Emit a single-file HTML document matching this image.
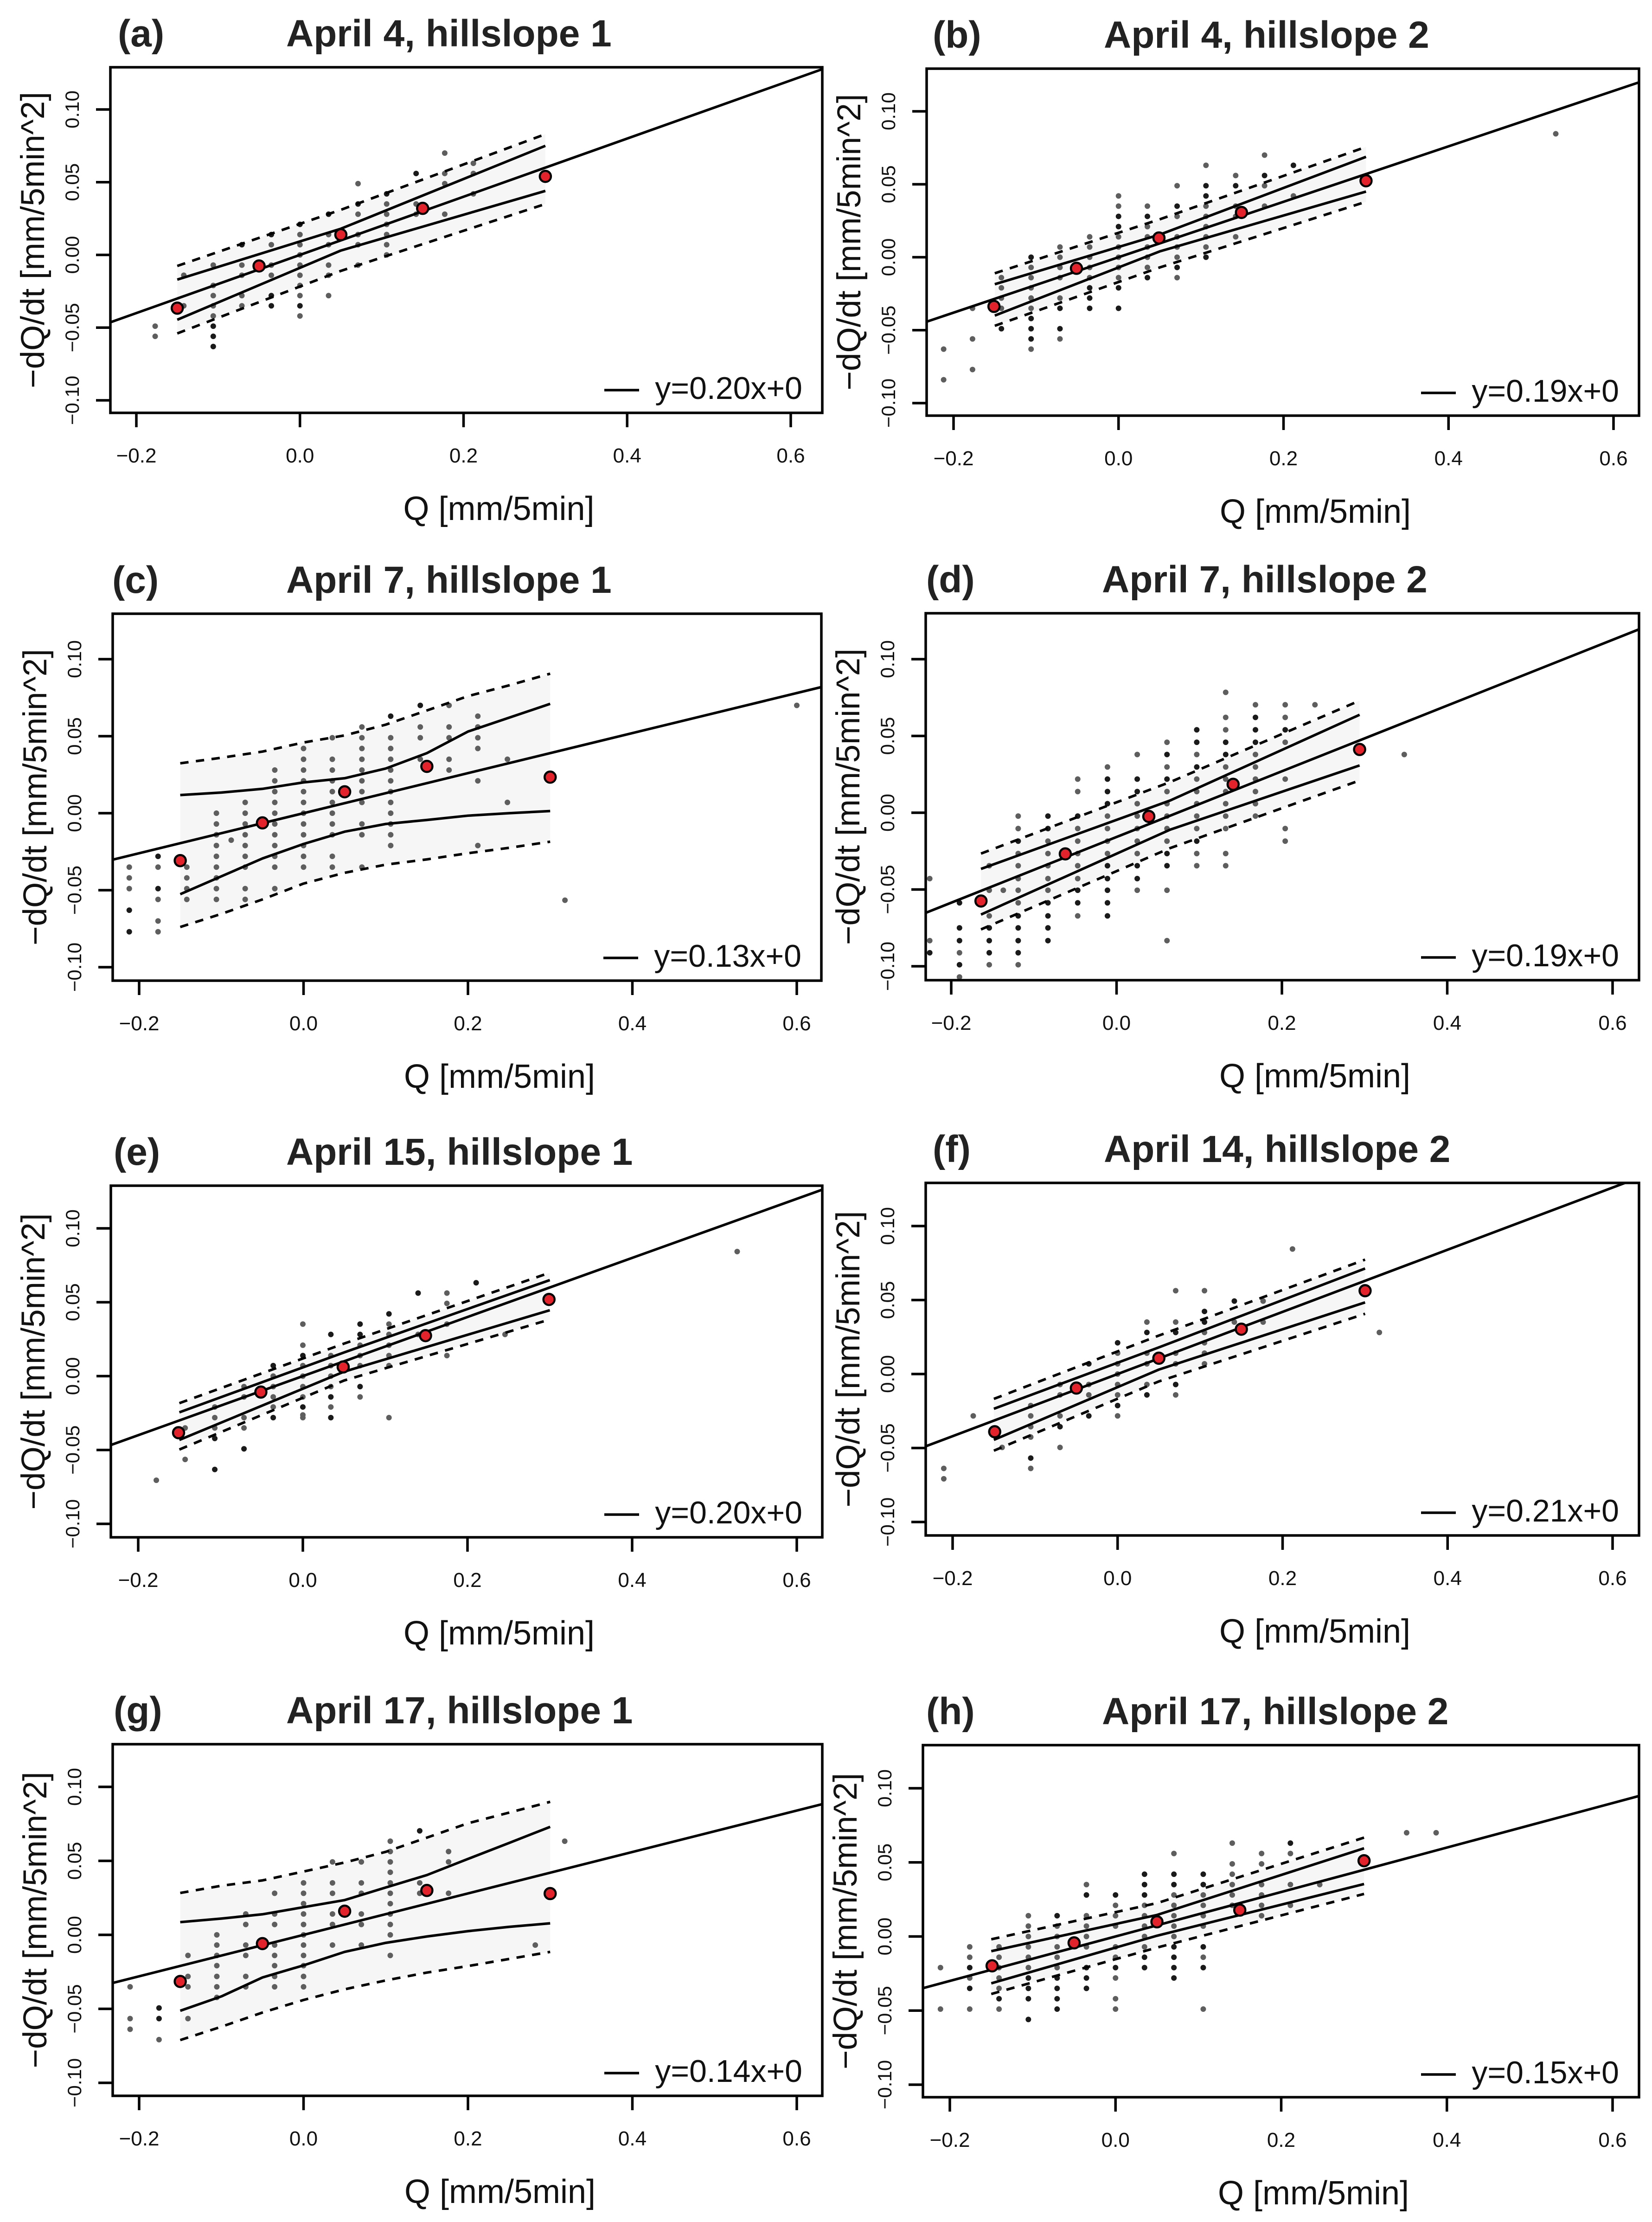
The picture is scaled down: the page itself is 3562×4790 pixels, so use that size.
<!DOCTYPE html>
<html><head><meta charset="utf-8"><style>
html,body{margin:0;padding:0;background:#fff;}
svg{display:block;font-family:"Liberation Sans",Arial,sans-serif;}
</style></head>
<body>
<svg id="fig" xmlns="http://www.w3.org/2000/svg" width="3562" height="4790" viewBox="0 0 3562 4790"></svg>
<script>
// ---------- chart data (data units) ----------
const panelLetters = ["(a)","(b)","(c)","(d)","(e)","(f)","(g)","(h)"];
const panelTitles = ["April 4, hillslope 1","April 4, hillslope 2","April 7, hillslope 1","April 7, hillslope 2","April 15, hillslope 1","April 14, hillslope 2","April 17, hillslope 1","April 17, hillslope 2"];
const slopes = [0.20,0.19,0.13,0.19,0.20,0.21,0.14,0.15];
const fitSlopes = [0.20,0.19,0.13,0.214,0.20,0.21,0.14,0.15];
const intercepts = [0,0,0,-0.0158,0,0,0,0];
const xTicks = [-0.2,0,0.2,0.4,0.6];
const xTickLabels = ["\u22120.2","0.0","0.2","0.4","0.6"];
const yTicks = [-0.1,-0.05,0,0.05,0.1];
const yTickLabels = ["\u22120.10","\u22120.05","0.00","0.05","0.10"];

// panel a
const aRedX=[-0.15,-0.05,0.05,0.15,0.30], aRedY=[-0.0366,-0.0076,0.0139,0.032,0.054];
const aBandX=[-0.15,0.05,0.3], aUpIn=[-0.017,0.018,0.075], aLoIn=[-0.0446,0.003,0.044], aUpOut=[-0.0076,0.031,0.083], aLoOut=[-0.054,-0.011,0.035];
const aDotX=[-0.177,-0.142,-0.106,-0.071,-0.035,0,0.035,0.071,0.106,0.142,0.177,0.212];
const aDotY=[[-0.049,-0.056],[-0.014,-0.035],[-0.007,-0.021,-0.028,-0.035,-0.042,-0.049,-0.056,-0.063],[0.007,-0.007,-0.014,-0.028,-0.035],[0.014,0.007,-0.007,-0.014,-0.028,-0.035],[0.021,0.014,0.007,0,-0.007,-0.014,-0.021,-0.028,-0.035,-0.042],[0.028,0.014,0.007,-0.007,-0.014,-0.028],[0.049,0.035,0.028,0.014,0.007,-0.007],[0.042,0.035,0.028,0.021,0.014,0.007,0],[0.056,0.035,0.028],[0.070,0.056,0.049,0.028],[0.063,0.056,0.042]];
const aDotDark=[[],[],[-0.049,-0.056,-0.063],[0.007],[0.014,-0.028,-0.035],[0.021,-0.035],[0.028],[0.035],[0.042],[0.056],[],[]];

// panel b
const bRedX=[-0.151,-0.051,0.049,0.149,0.30], bRedY=[-0.0337,-0.0076,0.0132,0.0307,0.0524];
const bBandX=[-0.15,0.05,0.3], bUpIn=[-0.0185,0.0155,0.0688], bLoIn=[-0.040,0.004,0.045], bUpOut=[-0.011,0.026,0.0756], bLoOut=[-0.047,-0.007,0.038];
const bDotX=[-0.212,-0.177,-0.142,-0.106,-0.071,-0.035,0,0.035,0.071,0.106,0.142,0.177,0.212,0.53];
const bDotY=[[-0.063,-0.084],[-0.035,-0.056,-0.077],[-0.014,-0.021,-0.028,-0.035,-0.049],[0,-0.007,-0.014,-0.021,-0.028,-0.035,-0.042,-0.049,-0.056,-0.063],[0.007,0,-0.007,-0.014,-0.028,-0.035,-0.049,-0.056],[0.014,0.007,0,-0.007,-0.014,-0.021,-0.028,-0.035],[0.042,0.035,0.028,0.021,0.014,0.007,0,-0.007,-0.014,-0.021,-0.035],[0.035,0.028,0.021,0.014,0.007,0,-0.007,-0.014],[0.049,0.035,0.028,0.014,0.007,0,-0.007,-0.014],[0.063,0.049,0.042,0.035,0.028,0.021,0.014,0.007,0],[0.056,0.049,0.035,0.028,0.014],[0.070,0.056,0.049,0.035],[0.063,0.042],[0.0846]];
const bDotDark=[[],[],[-0.049],[0,-0.042,-0.049,-0.056],[-0.035,-0.049],[-0.021,-0.028,-0.035],[0.028,0.021,-0.021,-0.035],[0.028,-0.014],[0.035,-0.007],[0.049,0.042,0],[0.049],[0.056],[0.063],[]];

// panel c
const cRedX=[-0.15,-0.05,0.05,0.15,0.30], cRedY=[-0.0308,-0.0063,0.0139,0.0304,0.0234];
const cBandX=[-0.15,-0.1,-0.05,0,0.05,0.1,0.15,0.2,0.25,0.3];
const cUpIn=[0.0118,0.0134,0.0158,0.020,0.0227,0.029,0.039,0.053,0.062,0.071];
const cLoIn=[-0.0526,-0.041,-0.0294,-0.020,-0.012,-0.007,-0.0044,-0.0016,0,0.0014];
const cUpOut=[0.0324,0.036,0.040,0.0459,0.0505,0.0575,0.0667,0.076,0.083,0.0906];
const cLoOut=[-0.0739,-0.0654,-0.056,-0.0457,-0.0387,-0.0334,-0.030,-0.026,-0.0225,-0.0185];
const cDotX=[-0.212,-0.177,-0.142,-0.106,-0.088,-0.071,-0.035,0,0.035,0.071,0.106,0.142,0.177,0.212,0.248,0.318,0.6];
const cDotY=[[-0.035,-0.042,-0.049,-0.063,-0.077],[-0.028,-0.035,-0.049,-0.056,-0.070,-0.077],[-0.035,-0.042,-0.049,-0.056],[0,-0.007,-0.014,-0.021,-0.028,-0.035,-0.042,-0.049,-0.056],[-0.0175],[0.007,0,-0.007,-0.014,-0.021,-0.028,-0.035,-0.049,-0.056],[0.028,0.021,0.014,0.007,0,-0.007,-0.014,-0.021,-0.028,-0.035,-0.049],[0.042,0.035,0.028,0.021,0.014,0.007,0,-0.007,-0.014,-0.021,-0.028,-0.035],[0.049,0.035,0.028,0.021,0.014,0.007,0,-0.007,-0.014,-0.028,-0.035],[0.056,0.049,0.042,0.035,0.028,0.021,0.014,0.007,-0.007,-0.014,-0.035],[0.063,0.049,0.042,0.035,0.028,0.021,0.014,0.007,0,-0.007,-0.014,-0.021],[0.070,0.056,0.049,0.035],[0.070,0.056,0.049,0.035,0.028],[0.063,0.056,0.049,0.042,0.021,-0.021],[0.035,0.007],[-0.0565],[0.070]];
const cDotDark=[[-0.063,-0.077],[-0.028,-0.049],[],[],[],[],[],[],[],[],[0.063],[0.070],[],[],[],[],[]];

// panel d
const dRedX=[-0.164,-0.062,0.039,0.141,0.294], dRedY=[-0.0575,-0.0268,-0.0024,0.0185,0.0412];
const dBandX=[-0.164,0.065,0.294], dUpIn=[-0.0366,0.008,0.0638], dLoIn=[-0.0663,-0.011,0.0308], dUpOut=[-0.0266,0.020,0.073], dLoOut=[-0.076,-0.023,0.021];
const dDotX=[-0.226,-0.190,-0.154,-0.137,-0.119,-0.083,-0.047,-0.011,0.025,0.061,0.097,0.132,0.168,0.204,0.24,0.348];
const dDotY=[[-0.0429,-0.0833,-0.0912,-0.115],[-0.0587,-0.075,-0.0833,-0.0912,-0.099,-0.107],[-0.0345,-0.0505,-0.0672,-0.075,-0.0833,-0.0912,-0.099],[-0.0505],[-0.0022,-0.0103,-0.0185,-0.0266,-0.0345,-0.0429,-0.0505,-0.0587,-0.0672,-0.075,-0.0833,-0.0912,-0.099],[-0.0022,-0.0103,-0.0185,-0.0266,-0.0345,-0.0429,-0.0505,-0.0587,-0.0672,-0.075,-0.0833],[0.0219,0.0138,-0.0022,-0.0103,-0.0185,-0.0266,-0.0345,-0.0429,-0.0505,-0.0587,-0.0672],[0.0298,0.0219,0.0138,0.0059,-0.0022,-0.0103,-0.0185,-0.0266,-0.0345,-0.0429,-0.0505,-0.0587,-0.0672],[0.0379,0.0219,0.0138,0.0059,-0.0022,-0.0103,-0.0185,-0.0266,-0.0345,-0.0429,-0.0505],[0.0459,0.0379,0.0298,0.0219,0.0138,0.0059,-0.0022,-0.0103,-0.0185,-0.0266,-0.0345,-0.0505,-0.0833],[0.054,0.0459,0.0379,0.0298,0.0219,0.0138,0.0059,-0.0022,-0.0103,-0.0185,-0.0266,-0.0345],[0.0784,0.0621,0.054,0.0459,0.0379,0.0298,0.0219,0.0138,0.0059,-0.0022,-0.0103,-0.0266,-0.0345],[0.0703,0.0621,0.054,0.0459,0.0379,0.0298,0.0219,0.0138,0.0059,-0.0022],[0.0703,0.0621,0.054,0.0459,0.0219,-0.0103,-0.0185],[0.0703],[0.0379]];
const dDotDark=[[-0.0912],[-0.0587,-0.075,-0.0833,-0.099],[-0.075,-0.0833,-0.0912],[],[-0.0185,-0.0672,-0.075,-0.0833,-0.0912],[-0.0022,-0.0103,-0.0587,-0.0672,-0.075,-0.0833],[-0.0022,-0.0505,-0.0587],[0.0219,0.0138,0.0059,-0.0345,-0.0429,-0.0505,-0.0587,-0.0672],[0.0219,0.0138,-0.0345,-0.0429],[0.0379,0.0219,-0.0266,-0.0345],[0.054,0.0459,0.0298,-0.0185],[0.0459,0.0379],[0.0621,0.054,0.0459],[0.054],[],[]];

// panel e
const eRedX=[-0.151,-0.051,0.049,0.149,0.299], eRedY=[-0.0383,-0.0108,0.0062,0.0274,0.0519];
const eBandX=[-0.15,0.05,0.3], eUpIn=[-0.0245,0.016,0.065], eLoIn=[-0.0432,0.003,0.0446], eUpOut=[-0.0183,0.022,0.070], eLoOut=[-0.0497,-0.003,0.0383];
const eDotX=[-0.178,-0.143,-0.107,-0.0715,-0.036,0,0.034,0.0695,0.1046,0.140,0.175,0.2105,0.2456,0.5276];
const eDotY=[[-0.0705],[-0.0351,-0.0564],[-0.0209,-0.0281,-0.0351,-0.0422,-0.0632],[-0.0071,-0.0141,-0.0281,-0.0351,-0.0492],[0.0071,0,-0.0071,-0.0141,-0.0209,-0.0281],[0.0352,0.0209,0.0139,0.0071,0,-0.0071,-0.0141,-0.0209,-0.0263,-0.0281],[0.0282,0.0139,0.0071,0,-0.0071,-0.0141,-0.0209,-0.0281],[0.0352,0.0282,0.0209,0.0139,0.0071,-0.0071,-0.0141],[0.0421,0.0352,0.0282,0.0209,0.0139,0.0071,-0.0281],[0.0562,0.0282],[0.0562,0.0492,0.0352,0.0139],[0.0632],[0.0282],[0.0843]];
const eDotDark=[[],[],[-0.0422,-0.0632],[-0.0492],[0.0071,-0.0281],[0.0139,-0.0209],[0.0282,-0.0141,-0.0281],[0.0352,0.0282,-0.0071],[0.0421],[0.0562],[],[0.0632],[],[]];

// panel f
const fRedX=[-0.149,-0.050,0.050,0.150,0.30], fRedY=[-0.039,-0.0095,0.0107,0.0303,0.0563];
const fBandX=[-0.15,0.05,0.3], fUpIn=[-0.0235,0.018,0.0713], fLoIn=[-0.0445,0.003,0.0484], fUpOut=[-0.0168,0.026,0.0773], fLoOut=[-0.0518,-0.005,0.0407];
const fDotX=[-0.2107,-0.175,-0.140,-0.1053,-0.0698,-0.0349,0,0.0355,0.0704,0.1053,0.1415,0.1764,0.212,0.3173];
const fDotY=[[-0.0638,-0.0708],[-0.0283],[-0.0496],[-0.0213,-0.0283,-0.0356,-0.0426,-0.0568,-0.0638],[-0.0071,-0.0141,-0.0283,-0.0356,-0.0496],[0.0069,-0.0071,-0.0141,-0.0283],[0.0211,0.0141,0.0069,0,-0.0071,-0.0141,-0.0213,-0.0283],[0.0351,0.0281,0.0141,0.0069,-0.0071,-0.0141],[0.0563,0.0351,0.0281,0.0141,0.0069,-0.0071,-0.0141],[0.0563,0.0423,0.0351,0.0281,0.0211,0.0141,0.0069],[0.0493,0.0351],[0.0493,0.0351],[0.0845],[0.0281]];
const fDotDark=[[],[],[],[-0.0568],[-0.0356],[0.0069,-0.0283],[0.0211,-0.0213],[0.0281,-0.0141],[0.0281,-0.0071],[0.0423,0.0351],[0.0493],[],[],[]];

// panel g
const gRedX=[-0.15,-0.05,0.05,0.15,0.30], gRedY=[-0.0315,-0.0059,0.016,0.030,0.0279];
const gBandX=[-0.15,-0.1,-0.05,0,0.05,0.1,0.15,0.2,0.25,0.3];
const gUpIn=[0.0086,0.011,0.0139,0.0187,0.0235,0.032,0.0404,0.0513,0.0621,0.073];
const gLoIn=[-0.0513,-0.0416,-0.0288,-0.0206,-0.0115,-0.0054,-0.0011,0.0025,0.0054,0.0078];
const gUpOut=[0.0283,0.0332,0.0368,0.0428,0.0489,0.0561,0.0657,0.0754,0.0826,0.0899];
const gLoOut=[-0.0711,-0.0621,-0.0525,-0.044,-0.0368,-0.0308,-0.0255,-0.0211,-0.0163,-0.0115];
const gDotX=[-0.211,-0.1758,-0.1406,-0.1055,-0.0703,-0.0352,0,0.0352,0.0703,0.1055,0.1413,0.1764,0.2819,0.3177];
const gDotY=[[-0.0351,-0.0566,-0.0638],[-0.0494,-0.0566,-0.0708],[-0.0139,-0.0281,-0.0351,-0.0566],[0,-0.0069,-0.0139,-0.0208,-0.0281,-0.0351,-0.0423],[0.0141,0.007,-0.0069,-0.0139,-0.0281,-0.0351],[0.0281,0.0141,0.007,-0.0069,-0.0139,-0.0208,-0.0281,-0.0351],[0.0351,0.0281,0.0211,0.0141,0.007,0,-0.0069,-0.0139,-0.0208,-0.0281,-0.0351],[0.0493,0.0351,0.0281,0.0141,0.007,-0.0069],[0.0493,0.0351,0.0281,0.0141,0.007,-0.0069],[0.0633,0.0563,0.0493,0.0423,0.0351,0.0281,0.0211,0.0141,0.007,0,-0.0139],[0.0703,0.0351,0.0281],[0.0563,0.0493,0.0281],[-0.0069],[0.0633]];
const gDotDark=[[],[-0.0494,-0.0566],[],[],[],[],[],[],[],[],[0.0703],[],[],[]];

// panel h
const hRedX=[-0.149,-0.050,0.050,0.150,0.30], hRedY=[-0.0198,-0.0043,0.0099,0.0178,0.0511];
const hBandX=[-0.15,0.05,0.3], hUpIn=[-0.0099,0.0145,0.0595], hLoIn=[-0.0316,0.0005,0.0354], hUpOut=[-0.0019,0.0225,0.0667], hLoOut=[-0.0388,-0.0075,0.0287];
const hDotX=[-0.2113,-0.176,-0.1406,-0.1052,-0.0705,-0.0351,0,0.035,0.0705,0.1059,0.1409,0.1763,0.2111,0.2465,0.3514,0.387];
const hDotY=[[-0.021,-0.049],[-0.007,-0.014,-0.021,-0.028,-0.035,-0.049],[-0.007,-0.014,-0.021,-0.028,-0.035,-0.042,-0.049],[0.014,0.007,0,-0.007,-0.014,-0.021,-0.028,-0.035,-0.042,-0.056],[0.014,0.007,0,-0.007,-0.014,-0.021,-0.028,-0.035,-0.042,-0.049],[0.035,0.028,0.014,0.007,0,-0.007,-0.021,-0.028,-0.035],[0.028,0.021,0.014,0.007,-0.007,-0.014,-0.021,-0.028,-0.042,-0.049],[0.042,0.035,0.028,0.021,0.014,0.007,0,-0.007,-0.014,-0.021],[0.056,0.042,0.035,0.028,0.021,0.014,0.007,0,-0.007,-0.014,-0.021,-0.028],[0.042,0.035,0.028,0.021,0.014,0.007,-0.007,-0.014,-0.021,-0.049],[0.063,0.049,0.042,0.035,0.028,0.021],[0.056,0.049,0.035,0.028,0.021,0.014],[0.063,0.056,0.035,0.021],[0.035],[0.070],[0.070]];
const hDotDark=[[],[-0.021,-0.035],[-0.042],[-0.028,-0.035,-0.042,-0.056],[0.014,-0.028,-0.035,-0.042,-0.049],[0.028,-0.021,-0.028,-0.035],[0.028,-0.021],[0.042,0.035,0.028,-0.014,-0.021],[0.042,0.035,-0.007,-0.014,-0.021,-0.028],[0.042,0.035,-0.007,-0.021],[],[],[0.063],[],[],[]];

// ---------- layout (pixels) ----------
const layout = [
 {L:238,R:1773,T:145,B:890,xa:294,xb:1705,ya:236,yb:863,tx:617,lx:254},
 {L:1998,R:3534,T:148,B:896,xa:2056,xb:3479,ya:240,yb:869,tx:2380,lx:2011},
 {L:243,R:1771,T:1323,B:2114,xa:300,xb:1718,ya:1421,yb:2085,tx:617,lx:242},
 {L:1996,R:3534,T:1322,B:2113,xa:2051,xb:3477,ya:1421,yb:2083,tx:2376,lx:1997},
 {L:239,R:1773,T:2556,B:3314,xa:298,xb:1718,ya:2648,yb:3285,tx:617,lx:245},
 {L:1996,R:3534,T:2550,B:3310,xa:2054,xb:3477,ya:2643,yb:3281,tx:2380,lx:2011},
 {L:243,R:1773,T:3760,B:4518,xa:300,xb:1718,ya:3852,yb:4490,tx:617,lx:245},
 {L:1990,R:3534,T:3762,B:4521,xa:2048,xb:3477,ya:3855,yb:4494,tx:2376,lx:1997}
];
const panels = [
 [aRedX,aRedY,aBandX,aUpIn,aLoIn,aUpOut,aLoOut,aDotX,aDotY,aDotDark],
 [bRedX,bRedY,bBandX,bUpIn,bLoIn,bUpOut,bLoOut,bDotX,bDotY,bDotDark],
 [cRedX,cRedY,cBandX,cUpIn,cLoIn,cUpOut,cLoOut,cDotX,cDotY,cDotDark],
 [dRedX,dRedY,dBandX,dUpIn,dLoIn,dUpOut,dLoOut,dDotX,dDotY,dDotDark],
 [eRedX,eRedY,eBandX,eUpIn,eLoIn,eUpOut,eLoOut,eDotX,eDotY,eDotDark],
 [fRedX,fRedY,fBandX,fUpIn,fLoIn,fUpOut,fLoOut,fDotX,fDotY,fDotDark],
 [gRedX,gRedY,gBandX,gUpIn,gLoIn,gUpOut,gLoOut,gDotX,gDotY,gDotDark],
 [hRedX,hRedY,hBandX,hUpIn,hLoIn,hUpOut,hLoOut,hDotX,hDotY,hDotDark]
];

const NS="http://www.w3.org/2000/svg";
const svg=document.getElementById('fig');
function mk(tag,parent,attrs){const e=document.createElementNS(NS,tag);for(const k in attrs)e.setAttribute(k,attrs[k]);parent.appendChild(e);return e;}
const defs=mk('defs',svg,{});
const LW=5.5;

panels.forEach((p,i)=>{
  const g=layout[i];
  const [redX,redY,bandX,upIn,loIn,upOut,loOut,dotX,dotY,dotDark]=p;
  const sx=v=>g.xa+(v+0.2)/0.8*(g.xb-g.xa);
  const sy=v=>g.ya+(0.1-v)/0.2*(g.yb-g.ya);
  const grp=mk('g',svg,{});
  
  
  const cp=mk('clipPath',defs,{id:'clip'+i});
  mk('rect',cp,{x:g.L,y:g.T,width:g.R-g.L,height:g.B-g.T});
  const plot=mk('g',grp,{'clip-path':'url(#clip'+i+')'});
  
  
  let pts=bandX.map((x,k)=>sx(x)+','+sy(upOut[k]));
  for(let k=bandX.length-1;k>=0;k--)pts.push(sx(bandX[k])+','+sy(loOut[k]));
  const fill=mk('polygon',plot,{points:pts.join(' '),fill:'#f6f6f6'});
  
  
  dotX.forEach((x,c)=>{
    dotY[c].forEach(y=>{
      const dark=dotDark[c].indexOf(y)>=0;
      const d=mk('circle',plot,{cx:sx(x),cy:sy(y),r:6,fill:dark?'#1a1a1a':'#5e5e5e'});
      
      
    });
  });
  const line=(arr,dash,name)=>{
    const l=mk('polyline',plot,{points:bandX.map((x,k)=>sx(x)+','+sy(arr[k])).join(' '),fill:'none',stroke:'#000','stroke-width':LW,'stroke-dasharray':dash?'18 16':'none','stroke-linejoin':'round'});
    
    
  };
  line(upIn,false,'confidence-upper');
  line(loIn,false,'confidence-lower');
  line(upOut,true,'prediction-upper');
  line(loOut,true,'prediction-lower');
  const x1=-0.3,x2=0.7;
  const reg=mk('line',plot,{x1:sx(x1),y1:sy(fitSlopes[i]*x1+intercepts[i]),x2:sx(x2),y2:sy(fitSlopes[i]*x2+intercepts[i]),stroke:'#000','stroke-width':LW});
  
  
  redX.forEach((x,k)=>{
    const r=mk('circle',plot,{cx:sx(x),cy:sy(redY[k]),r:12,fill:'#e3232b',stroke:'#000','stroke-width':4.5});
    
    
  });
  const box=mk('rect',grp,{x:g.L,y:g.T,width:g.R-g.L,height:g.B-g.T,fill:'none',stroke:'#000','stroke-width':LW});
  
  
  xTicks.forEach((v,k)=>{
    const t=mk('line',grp,{x1:sx(v),y1:g.B,x2:sx(v),y2:g.B+31,stroke:'#000','stroke-width':LW});
    
    
    const tl=mk('text',grp,{x:sx(v),y:g.B+107,'font-size':44,'text-anchor':'middle',fill:'#111'});
    tl.textContent=xTickLabels[k];
    
    
  });
  yTicks.forEach((v,k)=>{
    const t=mk('line',grp,{x1:g.L-31,y1:sy(v),x2:g.L,y2:sy(v),stroke:'#000','stroke-width':LW});
    
    
    const bx=g.L-68, by=sy(v);
    const tl=mk('text',grp,{x:bx,y:by,'font-size':42,'text-anchor':'middle',fill:'#111',transform:'rotate(-90 '+bx+' '+by+')'});
    tl.textContent=yTickLabels[k];
    
    
  });
  const xt=mk('text',grp,{x:(g.L+g.R)/2+70,y:g.B+231,'font-size':72,'text-anchor':'middle',fill:'#111'});
  xt.textContent='Q [mm/5min]';
  
  
  const yx=g.L-143, yy=(g.T+g.B)/2;
  const yt=mk('text',grp,{x:yx,y:yy,'font-size':71,'text-anchor':'middle',fill:'#111',transform:'rotate(-90 '+yx+' '+yy+')'});
  yt.textContent='\u2212dQ/dt [mm/5min^2]';
  
  
  const lab=mk('text',grp,{x:g.lx,y:g.T-45,'font-size':82,'font-weight':'bold',fill:'#222'});
  lab.textContent=panelLetters[i];
  
  
  const ti=mk('text',grp,{x:g.tx,y:g.T-45,'font-size':82,'font-weight':'bold',fill:'#222'});
  ti.textContent=panelTitles[i];
  
  
  const lg=mk('g',grp,{});
  
  
  const ll=mk('line',lg,{x1:g.R-470,y1:g.B-49,x2:g.R-395,y2:g.B-49,stroke:'#000','stroke-width':LW});
  
  
  const lt=mk('text',lg,{x:g.R-43,y:g.B-30,'font-size':68,'text-anchor':'end',fill:'#111'});
  lt.textContent='y='+slopes[i].toFixed(2)+'x+0';
  
  
});
</script>
</body></html>
